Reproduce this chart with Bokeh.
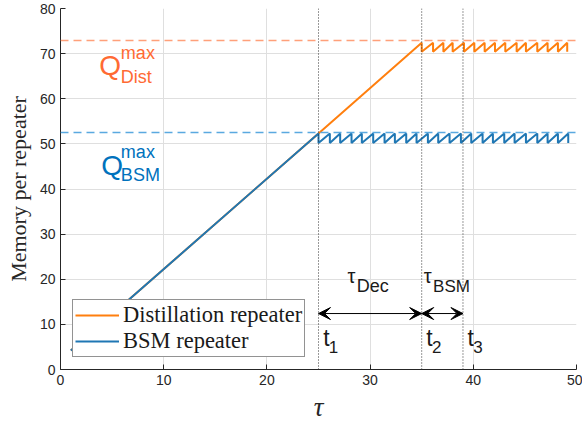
from bokeh.plotting import figure
from bokeh.models import (Span, Arrow, VeeHead, Legend, LegendItem, FixedTicker,
                          Range1d)
from bokeh.core.properties import value
from bokeh.embed import file_html
from bokeh.resources import INLINE

# ---------------- data ----------------
x_ticks = [0, 10, 20, 30, 40, 50]
y_ticks = [0, 10, 20, 30, 40, 50, 60, 70, 80]

ramp_tau = [1.0, 25.0]
ramp_mem = [4.2, 52.3]

dist_ramp_tau = [25.0, 35.0]
dist_ramp_mem = [52.3, 72.4]

bsm_drop_tau = [25.0, 26.1, 27.1, 28.2, 29.2, 30.3, 31.4, 32.4, 33.5, 34.5, 35.6, 36.6,
                37.7, 38.8, 39.8, 40.9, 41.9, 43.0, 44.0, 45.1, 46.2, 47.2, 48.2, 49.2]
bsm_top = 52.3
bsm_bottom = 50.2

dist_drop_tau = [35.0, 36.1, 37.1, 38.0, 39.1, 40.1, 41.1, 42.1, 43.1, 44.2, 45.1,
                 46.2, 47.2, 48.2, 49.1]
dist_top = 72.4
dist_bottom = 70.4

q_dist_max = 72.9
q_bsm_max = 52.5

t_marks = [25.0, 35.0, 39.0]
t_labels = ["1", "2", "3"]
arrow_level = 12.4

ORANGE = "#FF7F0E"
BLUE = "#1F77B4"


def saw(start_tau, start_mem, drops, top, bottom):
    xs = list(start_tau)
    ys = list(start_mem)
    for i, t in enumerate(drops):
        if i > 0:
            xs.append(t); ys.append(top)
        xs.append(t); ys.append(bottom)
    return xs, ys


dist_x, dist_y = saw(ramp_tau + dist_ramp_tau[1:], ramp_mem + dist_ramp_mem[1:],
                     dist_drop_tau, dist_top, dist_bottom)
bsm_x, bsm_y = saw(ramp_tau, ramp_mem, bsm_drop_tau, bsm_top, bsm_bottom)

# ---------------- figure ----------------
p = figure(width=582, height=424, output_backend="svg", toolbar_location=None,
           x_range=Range1d(0, 50), y_range=Range1d(0, 80),
           min_border_left=60, min_border_right=6, min_border_top=8, min_border_bottom=55)
p.background_fill_color = "white"
p.border_fill_color = "white"
p.outline_line_color = None

for ax in (p.xaxis[0], p.yaxis[0]):
    ax.major_tick_in = 5
    ax.major_tick_out = 0
    ax.minor_tick_in = 0
    ax.minor_tick_out = 0
    ax.axis_line_color = "#262626"
    ax.major_tick_line_color = "#262626"
    ax.major_label_text_font = "Liberation Sans"
    ax.major_label_text_font_size = "14px"
    ax.major_label_text_color = "#262626"
p.xaxis.ticker = FixedTicker(ticks=x_ticks)
p.yaxis.ticker = FixedTicker(ticks=y_ticks)
p.xgrid.ticker = FixedTicker(ticks=x_ticks)
p.ygrid.ticker = FixedTicker(ticks=y_ticks)
p.grid.grid_line_color = "#DFDFDF"

p.xaxis.axis_label = "τ"
p.xaxis.axis_label_text_font = "Liberation Serif"
p.xaxis.axis_label_text_font_style = "italic"
p.xaxis.axis_label_text_font_size = "27px"
p.xaxis.axis_label_text_color = "#262626"
p.xaxis.axis_label_standoff = 4
p.yaxis.axis_label = "Memory per repeater"
p.yaxis.axis_label_text_font = "Liberation Serif"
p.yaxis.axis_label_text_font_style = "normal"
p.yaxis.axis_label_text_font_size = "22px"
p.yaxis.axis_label_text_color = "#262626"
p.yaxis.axis_label_standoff = 6

# max lines
p.add_layout(Span(location=q_dist_max, dimension="width", line_color="#FFA07A",
                  line_width=1.5, line_dash="8 5"))
p.add_layout(Span(location=q_bsm_max, dimension="width", line_color="#5AA9E0",
                  line_width=1.5, line_dash="8 5"))

# vertical dotted markers
for t in t_marks:
    p.add_layout(Span(location=t, dimension="height", line_color="#333333",
                      line_width=1, line_dash="1 2"))

r_dist = p.line(dist_x, dist_y, line_color=ORANGE, line_width=2)
r_bsm = p.line(bsm_x, bsm_y, line_color=BLUE, line_width=2)

# arrows
for a, b in [(t_marks[0], t_marks[1]), (t_marks[1], t_marks[2])]:
    p.add_layout(Arrow(x_start=a, y_start=arrow_level, x_end=b, y_end=arrow_level,
                       line_color="black", line_width=1,
                       start=VeeHead(size=12, fill_color="black", line_color="black"),
                       end=VeeHead(size=12, fill_color="black", line_color="black")))

SANS = value("Liberation Sans")
DY = 2.2  # baseline correction


def txt(x, y, s, size, color="#1a1a1a", font=SANS, style="normal"):
    p.text(x=[x], y=[y + DY], text=[s], text_font=font, text_font_size=size,
           text_color=color, text_baseline="alphabetic", text_align="left",
           text_font_style=style)


# Q labels
QD = "#FF6A33"
QB = "#0072BD"
txt(3.75, 65.1, "Q", "28px", QD)
txt(5.85, 68.0, "max", "18px", QD)
txt(5.85, 62.7, "Dist", "18px", QD)
txt(3.95, 43.0, "Q", "28px", QB)
txt(5.85, 45.9, "max", "18px", QB)
txt(5.85, 40.8, "BSM", "18px", QB)

# tau labels
txt(27.8, 18.6, "τ", "20px")
txt(28.7, 16.4, "Dec", "18px")
txt(35.2, 18.6, "τ", "20px")
txt(36.1, 16.1, "BSM", "17px")

# t labels
for t, lab in zip(t_marks, t_labels):
    txt(t + 0.45, 4.7, "t", "23px")
    txt(t + 1.0, 2.7, lab, "17px")

legend = Legend(items=[LegendItem(label="Distillation repeater", renderers=[r_dist]),
                       LegendItem(label="BSM repeater", renderers=[r_bsm])],
                location=(12, 12), orientation="vertical",
                label_text_font="Liberation Serif", label_text_font_size="22.5px",
                label_text_color="#1a1a1a",
                glyph_width=44, glyph_height=22, label_height=22, label_standoff=4,
                padding=2, spacing=0, margin=0,
                border_line_color="#262626", border_line_width=1,
                background_fill_color="white", background_fill_alpha=1)
p.add_layout(legend)

open("out.html", "w").write(file_html(p, INLINE))
